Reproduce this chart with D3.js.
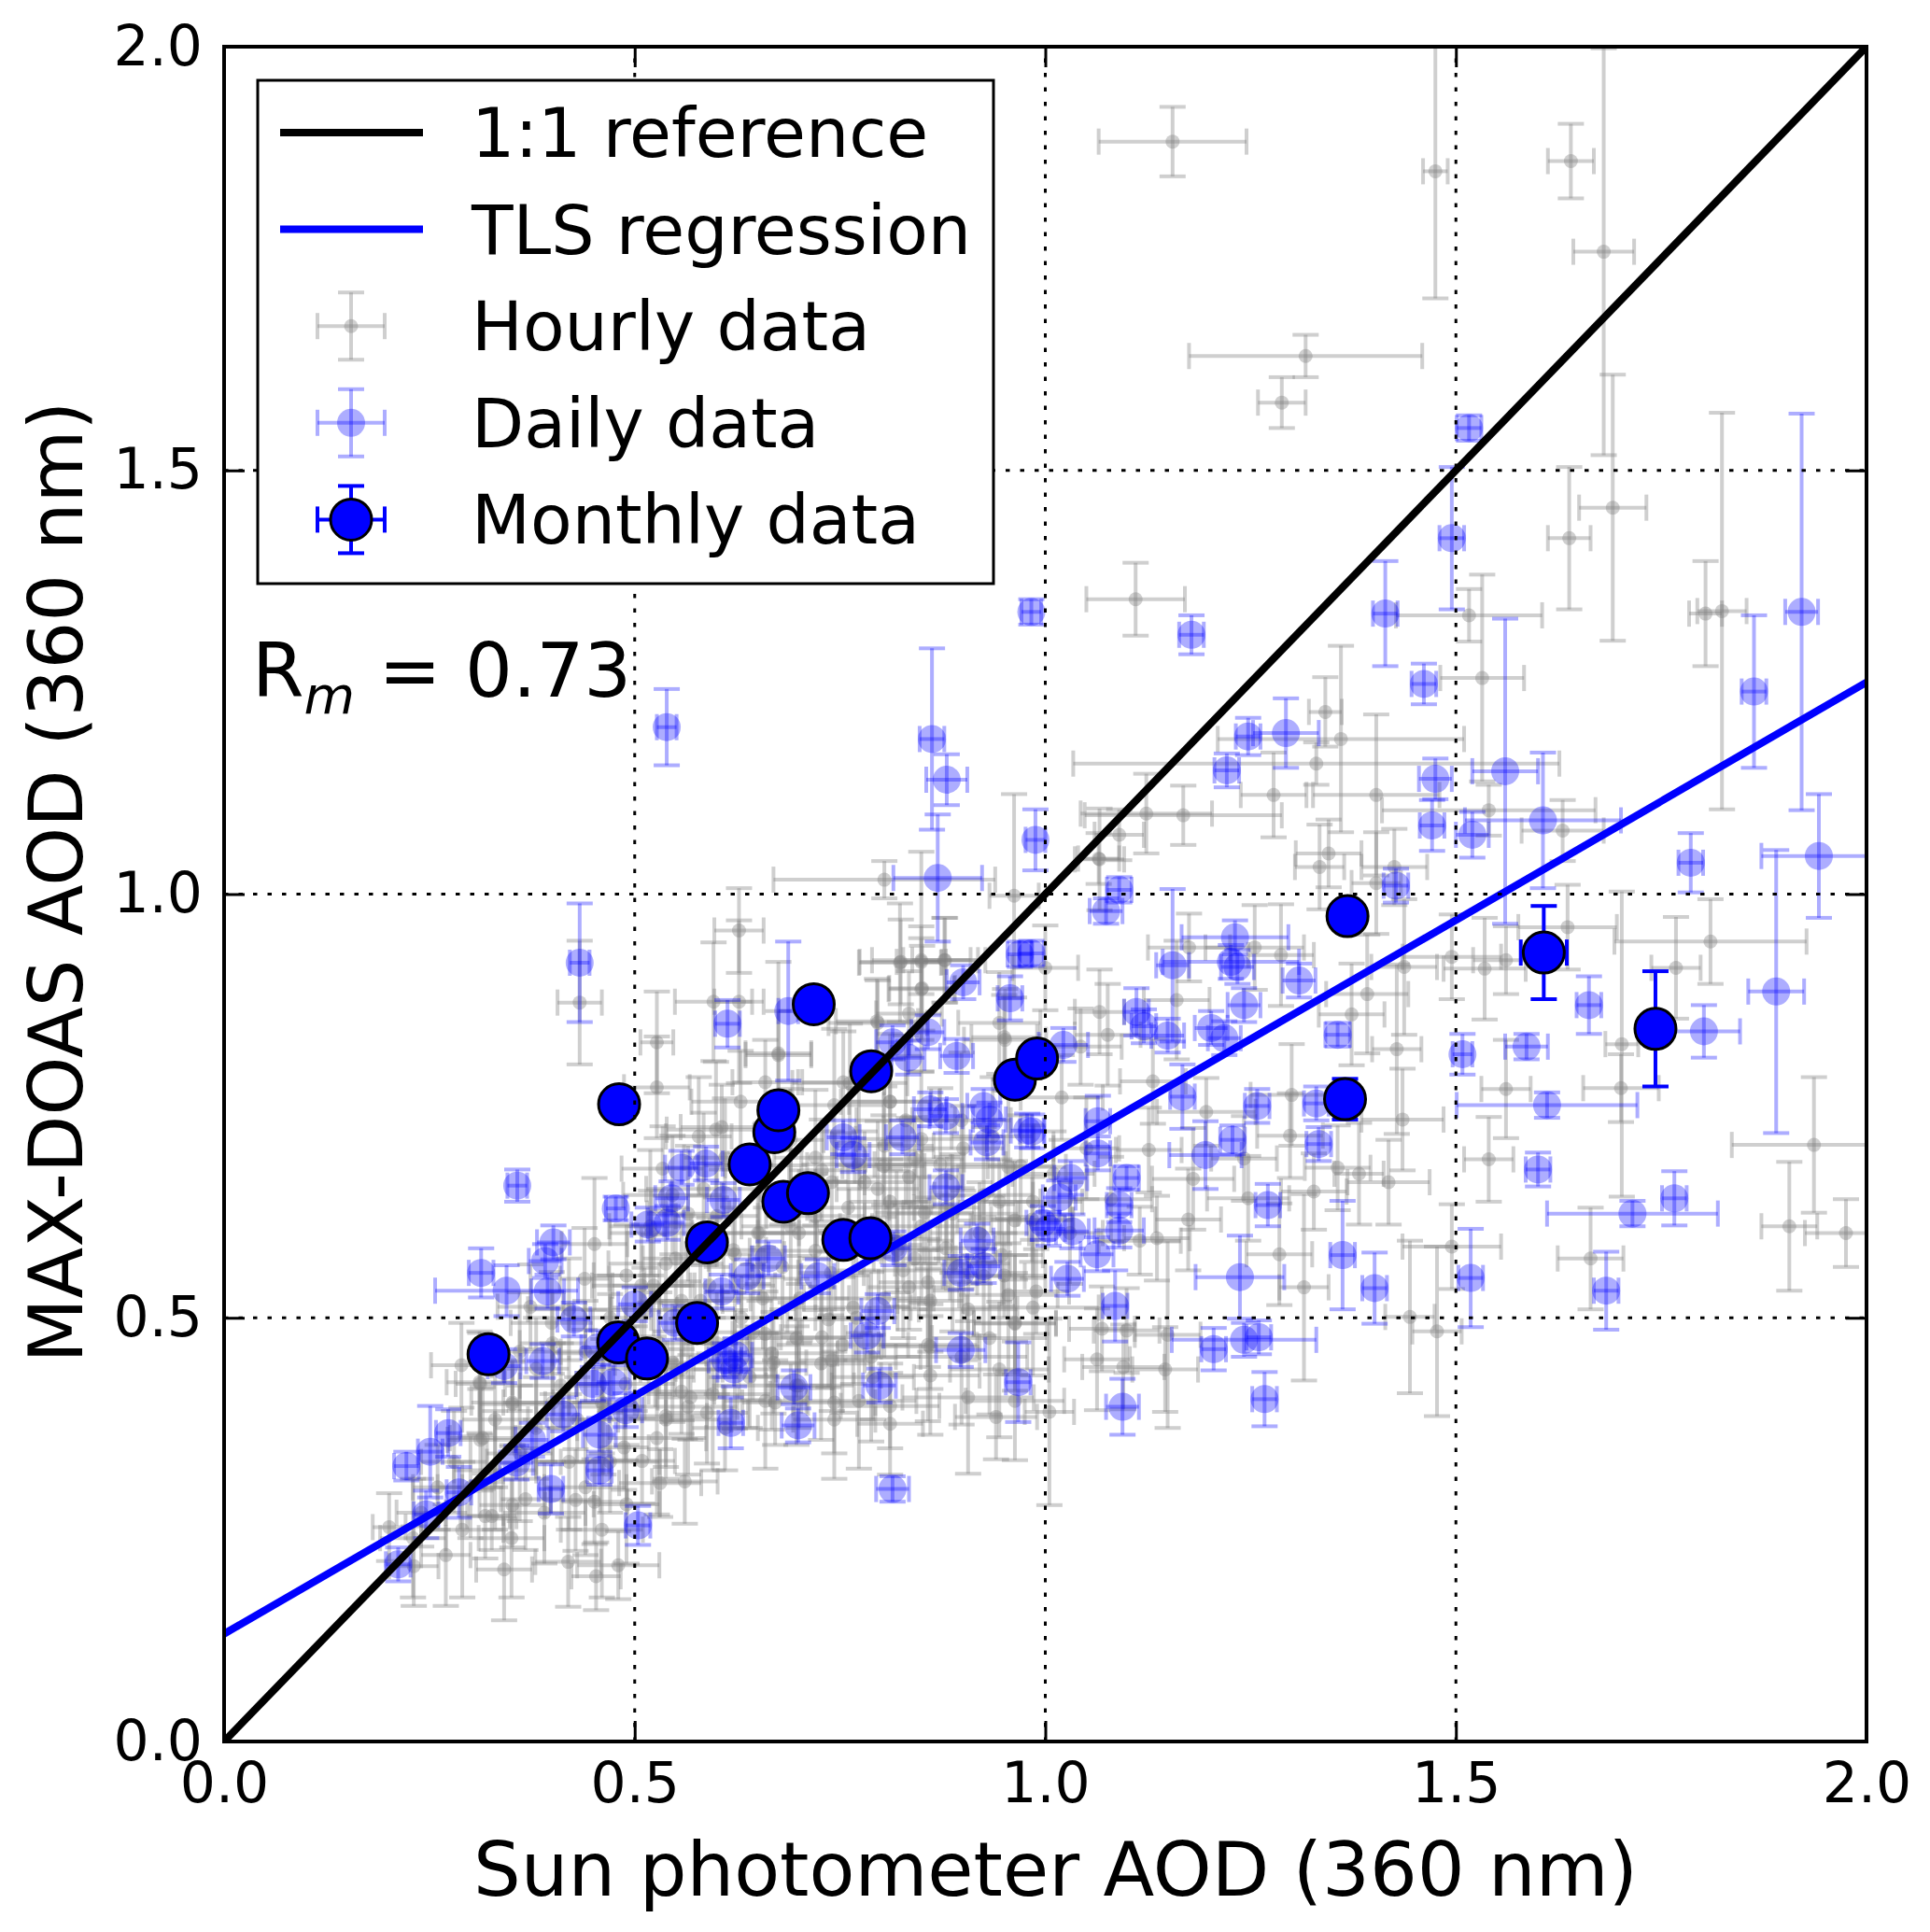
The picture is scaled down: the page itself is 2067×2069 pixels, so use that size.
<!DOCTYPE html>
<html lang="en">
<head>
<meta charset="UTF-8">
<title>MAX-DOAS vs Sun photometer AOD</title>
<script src="https://cdnjs.cloudflare.com/ajax/libs/d3/7.8.5/d3.min.js"></script>
<style>
  body { margin: 0; background: #fff; }
  text { font-family: "DejaVu Sans", sans-serif; fill: #000; }
</style>
</head>
<body>
<div id="chart"></div>
<script>
// every point is [x, y, xerr, yerr]
const hourly = [
  [1.155,1.888,0.090,0.041],[1.475,1.853,0.015,0.150],[1.640,1.865,0.028,0.044],[1.680,1.758,0.037,0.240],
  [1.317,1.635,0.142,0.025],[1.288,1.580,0.029,0.030],[1.691,1.456,0.041,0.157],[1.638,1.420,0.026,0.084],
  [1.110,1.348,0.060,0.043],[1.516,1.329,0.089,0.031],[1.532,1.255,0.051,0.122],[1.804,1.331,0.020,0.062],
  [1.824,1.334,0.030,0.234],[1.341,1.215,0.020,0.041],[1.360,1.183,0.150,0.110],[1.330,1.154,0.296,0.025],
  [1.278,1.117,0.040,0.050],[1.403,1.117,0.077,0.095],[1.123,1.095,0.080,0.047],[1.168,1.093,0.120,0.035],
  [1.090,1.070,0.030,0.030],[1.065,1.042,0.025,0.030],[1.540,1.099,0.130,0.030],[1.630,1.075,0.050,0.036],
  [1.345,1.048,0.040,0.040],[1.334,1.032,0.030,0.050],[1.425,1.032,0.040,0.045],[1.403,1.013,0.030,0.060],
  [1.000,0.913,0.040,0.050],[1.066,1.041,0.030,0.060],[1.175,0.937,0.050,0.040],[1.255,0.937,0.060,0.050],
  [1.287,0.928,0.040,0.060],[1.160,0.875,0.040,0.070],[1.066,0.861,0.030,0.050],[1.076,0.834,0.040,0.060],
  [1.043,0.820,0.050,0.045],[1.428,0.817,0.030,0.100],[1.392,0.882,0.050,0.070],[1.373,0.858,0.040,0.060],
  [1.437,0.914,0.040,0.080],[1.495,0.926,0.060,0.050],[1.535,0.912,0.050,0.060],[1.561,0.922,0.040,0.040],
  [1.636,0.961,0.060,0.050],[1.810,0.944,0.117,0.050],[1.768,0.913,0.030,0.060],[1.561,0.770,0.030,0.058],
  [1.702,0.823,0.020,0.180],[1.701,0.771,0.046,0.040],[1.131,0.779,0.040,0.050],[1.300,0.763,0.050,0.060],
  [1.298,0.715,0.040,0.050],[1.196,0.743,0.060,0.040],[1.435,0.734,0.050,0.060],[1.936,0.704,0.100,0.080],
  [1.540,0.687,0.030,0.050],[1.126,0.698,0.040,0.050],[1.180,0.664,0.050,0.060],[1.242,0.688,0.040,0.050],
  [1.356,0.677,0.040,0.050],[1.382,0.670,0.030,0.060],[1.418,0.660,0.050,0.050],[1.327,0.649,0.040,0.045],
  [1.247,0.641,0.050,0.050],[1.174,0.616,0.040,0.060],[0.984,0.616,0.050,0.050],[1.136,0.594,0.040,0.050],
  [1.115,0.591,0.050,0.040],[1.906,0.608,0.034,0.076],[1.285,0.575,0.040,0.060],[1.495,0.584,0.060,0.050],
  [1.664,0.570,0.040,0.060],[1.315,0.536,0.030,0.110],[1.444,0.501,0.030,0.090],[1.477,0.484,0.030,0.100],
  [1.149,0.480,0.040,0.110],[1.063,0.451,0.040,0.060],[1.095,0.442,0.050,0.050],[1.146,0.439,0.040,0.050],
  [1.005,0.389,0.030,0.110],[1.069,0.487,0.040,0.050],[1.099,0.485,0.040,0.050],[1.975,0.600,0.050,0.040],
  [0.433,0.872,0.027,0.073],[0.804,1.017,0.135,0.022],[0.962,0.998,0.030,0.120],[0.596,0.873,0.047,0.070],
  [0.627,0.873,0.030,0.096],[0.527,0.825,0.020,0.060],[0.823,0.919,0.050,0.070],[0.849,0.920,0.030,0.130],
  [0.878,0.922,0.040,0.050],[0.850,0.889,0.040,0.050],[0.795,0.850,0.050,0.050],[0.951,0.828,0.050,0.060],
  [0.675,0.810,0.040,0.110],[0.527,0.772,0.040,0.060],[0.534,0.676,0.050,0.050],[0.578,0.714,0.040,0.070],
  [0.451,0.587,0.040,0.078],[0.439,0.546,0.030,0.060],[0.373,0.513,0.040,0.050],[0.399,0.494,0.050,0.060],
  [0.289,0.444,0.037,0.050],[0.311,0.424,0.040,0.060],[0.351,0.400,0.050,0.050],[0.315,0.358,0.040,0.060],
  [0.523,0.538,0.050,0.060],[0.512,0.509,0.040,0.050],[0.557,0.439,0.050,0.060],[0.568,0.406,0.040,0.050],
  [0.538,0.384,0.050,0.060],[0.606,0.725,0.050,0.050],[0.627,0.957,0.030,0.050],[0.824,0.920,0.050,0.050],
  [0.849,0.922,0.060,0.040],[0.877,0.922,0.050,0.050],[0.849,0.888,0.040,0.060],[0.675,0.812,0.040,0.050],
  [0.796,0.848,0.060,0.050],[0.944,0.848,0.050,0.060],[0.834,0.859,0.040,0.050],[0.950,0.831,0.040,0.050],
  [0.629,0.755,0.060,0.060],[0.659,0.778,0.040,0.050],[0.754,0.778,0.050,0.060],[0.811,0.755,0.060,0.050],
  [0.803,0.679,0.050,0.060],[0.841,0.687,0.060,0.050],[0.728,0.674,0.040,0.060],[0.811,0.637,0.050,0.050],
  [0.853,0.624,0.060,0.060],[0.944,0.637,0.050,0.050],[0.970,0.679,0.040,0.060],[0.841,0.570,0.050,0.060],
  [0.879,0.582,0.060,0.050],[0.947,0.574,0.050,0.060],[0.739,0.553,0.040,0.050],[0.656,0.523,0.050,0.060],
  [0.701,0.523,0.060,0.050],[0.834,0.536,0.050,0.050],[0.906,0.510,0.060,0.060],[0.989,0.531,0.040,0.050],
  [0.963,0.493,0.050,0.060],[0.659,0.481,0.040,0.050],[0.728,0.477,0.050,0.060],[0.860,0.466,0.060,0.050],
  [0.669,0.447,0.040,0.060],[0.743,0.400,0.050,0.060],[0.811,0.396,0.060,0.050],[0.811,0.375,0.040,0.060],
  [0.940,0.383,0.050,0.050],[0.671,0.400,0.040,0.050],[0.201,0.253,0.020,0.040],[0.231,0.207,0.030,0.047],
  [0.341,0.203,0.034,0.060],[0.419,0.212,0.040,0.053],[0.453,0.195,0.030,0.040],[0.480,0.208,0.050,0.040],
  [0.351,0.279,0.040,0.050],[0.367,0.286,0.030,0.060],[0.451,0.283,0.040,0.050],[0.428,0.285,0.030,0.060],
  [0.509,0.331,0.040,0.050],[0.531,0.305,0.050,0.040],[0.487,0.347,0.030,0.050],[0.312,0.356,0.040,0.060],
  [0.318,0.266,0.030,0.050],[0.326,0.266,0.030,0.040],[0.351,0.398,0.040,0.050],[0.312,0.422,0.030,0.060],
  [0.561,0.307,0.040,0.050],[0.588,0.388,0.050,0.060],[0.557,0.413,0.040,0.050],
  [0.600,0.620,0.050,0.060],[0.620,0.580,0.040,0.050],[0.650,0.600,0.050,0.060],[0.680,0.560,0.040,0.050],
  [0.700,0.600,0.050,0.060],[0.720,0.620,0.060,0.050],[0.740,0.660,0.040,0.060],[0.760,0.630,0.050,0.050],
  [0.780,0.660,0.060,0.060],[0.630,0.500,0.050,0.050],[0.600,0.470,0.040,0.060],[0.580,0.520,0.050,0.050],
  [0.550,0.570,0.040,0.060],[0.520,0.600,0.050,0.050],[0.490,0.550,0.040,0.060],[0.470,0.500,0.050,0.050],
  [0.440,0.460,0.040,0.060],[0.410,0.420,0.050,0.050],[0.380,0.440,0.040,0.060],[0.430,0.380,0.050,0.050],
  [0.460,0.400,0.040,0.060],[0.500,0.440,0.050,0.050],[0.530,0.470,0.040,0.060],[0.660,0.680,0.050,0.050],
  [0.690,0.710,0.040,0.060],[0.820,0.580,0.050,0.050],[0.880,0.630,0.040,0.060],[0.900,0.700,0.050,0.050],
  [0.920,0.600,0.060,0.060],[0.950,0.550,0.050,0.050],[0.860,0.520,0.040,0.060],[0.770,0.500,0.050,0.050],
  [0.740,0.450,0.040,0.060],[0.790,0.430,0.050,0.050],[0.700,0.420,0.040,0.050],[0.640,0.430,0.050,0.060],
  [0.610,0.370,0.040,0.050],[0.260,0.300,0.030,0.050],[0.280,0.330,0.040,0.060],[0.240,0.270,0.030,0.040],
  [1.020,0.760,0.050,0.050],[1.050,0.700,0.040,0.060],[1.080,0.640,0.050,0.050],[1.030,0.600,0.040,0.060],
  [1.010,0.670,0.050,0.050],
  [0.599,0.722,0.060,0.080],[0.610,0.689,0.050,0.070],[0.584,0.652,0.070,0.090],[0.565,0.623,0.050,0.080],
  [0.546,0.645,0.060,0.070],[0.519,0.608,0.050,0.090],[0.538,0.564,0.070,0.080],[0.508,0.538,0.060,0.070],
  [0.557,0.520,0.050,0.090],[0.591,0.538,0.080,0.080],[0.622,0.575,0.060,0.100],[0.652,0.600,0.070,0.080],
  [0.690,0.608,0.060,0.090],[0.720,0.579,0.080,0.070],[0.720,0.689,0.050,0.080],[0.743,0.751,0.060,0.090],
  [0.762,0.777,0.070,0.070],[0.811,0.755,0.050,0.080],[0.830,0.733,0.060,0.100],[0.849,0.711,0.080,0.080],
  [0.804,0.703,0.060,0.070],[0.773,0.681,0.070,0.090],[0.796,0.652,0.050,0.080],[0.834,0.666,0.060,0.070],
  [0.872,0.681,0.080,0.090],[0.898,0.733,0.060,0.080],[0.936,0.714,0.050,0.070],[0.955,0.678,0.070,0.090],
  [0.925,0.645,0.060,0.080],[0.887,0.623,0.080,0.070],[0.849,0.608,0.060,0.090],[0.819,0.593,0.050,0.080],
  [0.963,0.615,0.070,0.070],[0.985,0.637,0.060,0.090],[0.827,0.556,0.080,0.080],[0.857,0.542,0.060,0.100],
  [0.887,0.564,0.070,0.080],[0.925,0.549,0.050,0.070],[0.955,0.527,0.060,0.090],[0.985,0.512,0.080,0.080],
  [0.804,0.523,0.060,0.070],[0.766,0.512,0.070,0.090],[0.736,0.498,0.050,0.080],[0.697,0.476,0.060,0.070],
  [0.667,0.458,0.080,0.090],[0.644,0.483,0.060,0.080],[0.622,0.439,0.050,0.070],[0.595,0.410,0.070,0.090],
  [0.565,0.395,0.060,0.080],[0.538,0.380,0.080,0.070],[0.527,0.358,0.060,0.090],[0.659,0.402,0.050,0.080],
  [0.697,0.420,0.070,0.070],[0.727,0.446,0.060,0.090],[0.753,0.468,0.080,0.080],[0.788,0.454,0.060,0.100],
  [0.773,0.402,0.070,0.080],[0.743,0.380,0.050,0.070],[0.857,0.468,0.060,0.090],[0.898,0.454,0.080,0.080],
  [0.860,0.432,0.060,0.070],[0.932,0.476,0.070,0.090],[0.963,0.494,0.050,0.080],[0.963,0.402,0.060,0.070],
  [0.906,0.406,0.080,0.090],[0.944,0.439,0.060,0.080],[0.470,0.458,0.070,0.070],[0.489,0.422,0.060,0.090],
  [0.462,0.395,0.050,0.080],[0.546,0.447,0.070,0.070],
  [0.300,0.300,0.040,0.060],[0.330,0.320,0.050,0.070],[0.360,0.340,0.040,0.080],[0.380,0.370,0.050,0.060],
  [0.400,0.400,0.060,0.070],[0.420,0.330,0.040,0.080],[0.390,0.270,0.050,0.060],[0.350,0.240,0.040,0.070],
  [0.290,0.250,0.050,0.080],[0.270,0.220,0.030,0.060],[0.230,0.240,0.040,0.070],[0.440,0.300,0.050,0.080],
  [0.470,0.330,0.060,0.060],[0.490,0.280,0.040,0.070],[0.460,0.250,0.050,0.080],[0.400,0.470,0.040,0.060],
  [0.360,0.460,0.050,0.070],[0.330,0.380,0.040,0.080],[0.420,0.510,0.050,0.060]
];

const daily = [
  [1.516,1.550,0.015,0.015],[1.495,1.420,0.015,0.084],[0.983,1.333,0.012,0.015],[1.178,1.306,0.015,0.023],
  [1.414,1.331,0.015,0.062],[1.461,1.248,0.015,0.024],[1.921,1.333,0.020,0.234],[1.863,1.239,0.015,0.090],
  [1.247,1.186,0.015,0.022],[1.293,1.190,0.040,0.041],[1.221,1.146,0.015,0.020],[1.475,1.136,0.020,0.024],
  [1.560,1.145,0.040,0.180],[1.471,1.081,0.015,0.030],[1.520,1.070,0.020,0.027],[1.606,1.087,0.095,0.080],
  [0.988,1.064,0.012,0.036],[1.786,1.037,0.015,0.035],[1.942,1.045,0.070,0.073],[1.090,1.005,0.015,0.015],
  [1.427,1.010,0.015,0.020],[1.074,0.980,0.020,0.015],[0.983,0.930,0.015,0.015],[1.155,0.916,0.020,0.090],
  [1.231,0.949,0.065,0.020],[1.226,0.920,0.083,0.020],[1.234,0.914,0.020,0.020],[1.309,0.898,0.020,0.020],
  [1.242,0.869,0.020,0.020],[1.111,0.861,0.015,0.028],[1.120,0.844,0.015,0.020],[1.149,0.833,0.020,0.020],
  [1.202,0.842,0.020,0.020],[1.218,0.830,0.020,0.020],[1.356,0.834,0.015,0.014],[1.022,0.822,0.030,0.020],
  [1.508,0.811,0.012,0.024],[1.586,0.820,0.026,0.015],[1.662,0.869,0.015,0.034],[1.802,0.838,0.044,0.031],
  [1.890,0.885,0.034,0.167],[1.167,0.761,0.015,0.038],[1.258,0.750,0.015,0.020],[1.330,0.753,0.015,0.020],
  [1.611,0.751,0.110,0.015],[0.984,0.720,0.015,0.020],[1.064,0.732,0.015,0.030],[1.064,0.694,0.015,0.020],
  [1.228,0.710,0.015,0.017],[1.195,0.692,0.044,0.040],[1.333,0.705,0.015,0.020],[1.031,0.665,0.020,0.020],
  [1.099,0.665,0.015,0.014],[1.017,0.642,0.020,0.020],[1.090,0.633,0.015,0.020],[1.271,0.633,0.015,0.025],
  [1.600,0.675,0.015,0.020],[1.766,0.641,0.015,0.032],[1.715,0.623,0.104,0.015],[1.090,0.603,0.030,0.020],
  [1.004,0.605,0.020,0.020],[1.033,0.602,0.020,0.020],[1.063,0.575,0.020,0.020],[1.362,0.574,0.015,0.064],
  [1.401,0.535,0.015,0.042],[1.237,0.548,0.054,0.049],[1.027,0.546,0.020,0.020],[1.518,0.547,0.015,0.058],
  [1.683,0.532,0.015,0.046],[1.085,0.514,0.015,0.042],[1.205,0.463,0.015,0.025],[1.242,0.474,0.088,0.020],
  [1.260,0.477,0.015,0.020],[1.267,0.404,0.015,0.032],[1.094,0.395,0.020,0.033],
  [0.433,0.919,0.012,0.070],[0.539,1.197,0.012,0.045],[0.862,1.183,0.015,0.107],[0.880,1.135,0.025,0.030],
  [0.869,1.019,0.054,0.075],[0.969,0.929,0.015,0.015],[0.957,0.877,0.015,0.026],[0.613,0.847,0.015,0.028],
  [0.687,0.862,0.012,0.082],[0.900,0.896,0.020,0.020],[0.857,0.837,0.020,0.020],[0.814,0.825,0.020,0.020],
  [0.833,0.807,0.020,0.020],[0.892,0.809,0.020,0.020],
  [0.357,0.656,0.012,0.019],[0.477,0.629,0.012,0.014],[0.313,0.553,0.015,0.029],[0.344,0.532,0.087,0.030],
  [0.394,0.531,0.020,0.020],[0.391,0.567,0.020,0.020],[0.401,0.589,0.020,0.020],[0.426,0.498,0.020,0.020],
  [0.388,0.449,0.020,0.020],[0.341,0.443,0.020,0.020],[0.273,0.364,0.015,0.028],[0.251,0.342,0.015,0.054],
  [0.222,0.325,0.015,0.017],[0.557,0.677,0.020,0.020],[0.587,0.682,0.020,0.020],[0.545,0.641,0.020,0.020],
  [0.516,0.610,0.020,0.020],[0.540,0.612,0.020,0.020],[0.608,0.639,0.020,0.020],[0.500,0.516,0.020,0.020],
  [0.455,0.465,0.020,0.020],[0.449,0.422,0.020,0.020],[0.474,0.424,0.020,0.020],[0.489,0.391,0.020,0.020],
  [0.413,0.386,0.020,0.020],[0.457,0.362,0.020,0.020],[0.617,0.376,0.015,0.030],[0.606,0.531,0.020,0.020],
  [0.610,0.450,0.020,0.020],[0.621,0.439,0.020,0.020],[0.549,0.494,0.020,0.020],
  [0.860,0.746,0.020,0.020],[0.879,0.738,0.020,0.020],[0.925,0.750,0.020,0.020],[0.932,0.734,0.020,0.020],
  [0.978,0.721,0.020,0.020],[0.929,0.707,0.020,0.020],[0.826,0.713,0.020,0.020],[0.754,0.713,0.020,0.020],
  [0.766,0.692,0.020,0.020],[0.879,0.654,0.020,0.020],[0.917,0.591,0.020,0.020],[0.925,0.561,0.020,0.020],
  [0.897,0.553,0.020,0.020],[0.997,0.612,0.020,0.020],[0.796,0.508,0.020,0.020],[0.783,0.479,0.020,0.020],
  [0.897,0.462,0.030,0.020],[0.967,0.424,0.015,0.047],[0.798,0.420,0.020,0.020],[0.694,0.418,0.020,0.020],
  [0.699,0.373,0.020,0.020],[0.623,0.456,0.020,0.020],[0.663,0.570,0.020,0.020],[0.637,0.549,0.020,0.020],
  [0.723,0.549,0.020,0.020],[0.815,0.582,0.020,0.020],
  [0.286,0.294,0.015,0.030],[0.246,0.268,0.015,0.028],[0.212,0.209,0.015,0.020],[0.356,0.329,0.020,0.020],
  [0.375,0.356,0.020,0.020],[0.398,0.298,0.015,0.029],[0.457,0.320,0.015,0.017],[0.504,0.255,0.015,0.023],
  [0.814,0.298,0.020,0.015]
];

const monthly = [
  [0.322,0.457,0.010,0.015],[0.481,0.752,0.010,0.015],[0.480,0.471,0.010,0.015],[0.515,0.452,0.010,0.015],
  [0.576,0.494,0.010,0.015],[0.588,0.589,0.010,0.015],[0.640,0.681,0.010,0.015],[0.670,0.719,0.010,0.015],
  [0.675,0.745,0.010,0.015],[0.681,0.637,0.010,0.015],[0.711,0.647,0.010,0.015],[0.718,0.870,0.010,0.015],
  [0.754,0.592,0.010,0.015],[0.787,0.594,0.010,0.015],[0.788,0.791,0.010,0.015],[0.963,0.781,0.010,0.015],
  [0.990,0.806,0.010,0.015],[1.368,0.974,0.010,0.015],[1.365,0.758,0.010,0.024],[1.607,0.931,0.028,0.055],
  [1.743,0.841,0.010,0.068]
];

const tickValues = [0, 0.5, 1.0, 1.5, 2.0];
const gridValues = [0.5, 1.0, 1.5];
const tlsIntercept = 0.127;
const tlsSlope = 0.5615;
const correlation = "0.73";
const legendLabels = ["1:1 reference", "TLS regression", "Hourly data", "Daily data", "Monthly data"];

const W = 2067, H = 2069;
const margin = {top: 50, right: 68, bottom: 204, left: 240};
const innerW = W - margin.left - margin.right;
const innerH = H - margin.top - margin.bottom;

const svg = d3.select("#chart").append("svg")
    .attr("width", W)
    .attr("height", H);

const x = d3.scaleLinear().domain([0, 2]).range([margin.left, margin.left + innerW]);
const y = d3.scaleLinear().domain([0, 2]).range([margin.top + innerH, margin.top]);

svg.append("clipPath").attr("id", "plot-clip")
  .append("rect")
    .attr("x", margin.left).attr("y", margin.top)
    .attr("width", innerW).attr("height", innerH);

const plot = svg.append("g").attr("clip-path", "url(#plot-clip)");

const styles = {
  hourly: {color: "gray", alpha: 0.38, width: 4, cap: 14, r: 7.5, edge: null},
  daily: {color: "blue", alpha: 0.32, width: 4, cap: 14, r: 15, edge: null},
  monthly: {color: "blue", alpha: 1, width: 4, cap: 14, r: 22, edge: "#000"}
};

// bars (with caps) for one series, then its markers on top
function errorbars(g, data, s) {
  const bars = g.append("g")
      .attr("stroke", s.color)
      .attr("stroke-opacity", s.alpha)
      .attr("stroke-width", s.width);
  data.forEach(d => {
    const cx = x(d[0]), cy = y(d[1]);
    const xl = x(d[0] - d[2]), xr = x(d[0] + d[2]);
    const yb = y(d[1] - d[3]), yt = y(d[1] + d[3]);
    bars.append("line").attr("x1", xl).attr("x2", xr).attr("y1", cy).attr("y2", cy);
    bars.append("line").attr("x1", cx).attr("x2", cx).attr("y1", yb).attr("y2", yt);
    bars.append("line").attr("x1", xl).attr("x2", xl).attr("y1", cy - s.cap).attr("y2", cy + s.cap);
    bars.append("line").attr("x1", xr).attr("x2", xr).attr("y1", cy - s.cap).attr("y2", cy + s.cap);
    bars.append("line").attr("x1", cx - s.cap).attr("x2", cx + s.cap).attr("y1", yb).attr("y2", yb);
    bars.append("line").attr("x1", cx - s.cap).attr("x2", cx + s.cap).attr("y1", yt).attr("y2", yt);
  });
  g.append("g").selectAll("circle")
    .data(data)
    .join("circle")
      .attr("cx", d => x(d[0]))
      .attr("cy", d => y(d[1]))
      .attr("r", s.r)
      .attr("fill", s.color)
      .attr("fill-opacity", s.alpha)
      .attr("stroke", s.edge || "none")
      .attr("stroke-width", s.edge ? 3 : 0);
}

errorbars(plot, hourly, styles.hourly);
errorbars(plot, daily, styles.daily);

// TLS line sits under the monthly markers, the 1:1 line above them
plot.append("line")
    .attr("x1", x(0)).attr("y1", y(tlsIntercept))
    .attr("x2", x(2)).attr("y2", y(tlsIntercept + 2 * tlsSlope))
    .attr("stroke", "blue").attr("stroke-width", 8);

errorbars(plot, monthly, styles.monthly);

plot.append("line")
    .attr("x1", x(0)).attr("y1", y(0))
    .attr("x2", x(2)).attr("y2", y(2))
    .attr("stroke", "#000").attr("stroke-width", 8);

// dotted grid
const grid = svg.append("g")
    .attr("stroke", "#000")
    .attr("stroke-width", 3)
    .attr("stroke-dasharray", "4.5 11");
grid.selectAll(".gx").data(gridValues).join("line")
    .attr("x1", d => x(d)).attr("x2", d => x(d))
    .attr("y1", y(0)).attr("y2", y(2));
grid.selectAll(".gy").data(gridValues).join("line")
    .attr("y1", d => y(d)).attr("y2", d => y(d))
    .attr("x1", x(0)).attr("x2", x(2));

// axes with inward ticks on all four sides
const fmt = d3.format(".1f");
const tickLen = 22;
function styleAxis(g) {
  g.select(".domain").remove();
  g.selectAll(".tick line").attr("stroke", "#000").attr("stroke-width", 3);
  g.selectAll(".tick text").attr("font-size", 60).attr("font-family", "DejaVu Sans").attr("fill", "#000");
}
svg.append("g")
    .attr("transform", `translate(0,${y(0)})`)
    .call(d3.axisBottom(x).tickValues(tickValues).tickFormat(fmt).tickSize(-tickLen).tickPadding(22))
    .call(styleAxis);
svg.append("g")
    .attr("transform", `translate(${x(0)},0)`)
    .call(d3.axisLeft(y).tickValues(tickValues).tickFormat(fmt).tickSize(-tickLen).tickPadding(23))
    .call(styleAxis);
svg.append("g")
    .attr("transform", `translate(0,${y(2)})`)
    .call(d3.axisTop(x).tickValues(tickValues).tickFormat("").tickSize(-tickLen))
    .call(styleAxis);
svg.append("g")
    .attr("transform", `translate(${x(2)},0)`)
    .call(d3.axisRight(y).tickValues(tickValues).tickFormat("").tickSize(-tickLen))
    .call(styleAxis);

svg.append("rect")
    .attr("x", x(0)).attr("y", y(2))
    .attr("width", innerW).attr("height", innerH)
    .attr("fill", "none").attr("stroke", "#000").attr("stroke-width", 4);

// axis titles
svg.append("text")
    .attr("x", margin.left + innerW / 2 + 11)
    .attr("y", 2030)
    .attr("text-anchor", "middle")
    .attr("font-size", 80)
    .text("Sun photometer AOD (360 nm)");
svg.append("text")
    .attr("transform", `translate(88,${margin.top + innerH / 2 - 13}) rotate(-90)`)
    .attr("text-anchor", "middle")
    .attr("font-size", 80)
    .text("MAX-DOAS AOD (360 nm)");

// correlation label
const rText = svg.append("text")
    .attr("x", 270).attr("y", 746)
    .attr("font-size", 80);
rText.append("tspan").text("R");
rText.append("tspan").attr("dy", 18).attr("font-size", 56).attr("font-style", "italic").text("m");
rText.append("tspan").attr("dy", -18).text(` = ${correlation}`);

// legend
const legend = svg.append("g");
legend.append("rect")
    .attr("x", 276).attr("y", 86)
    .attr("width", 788).attr("height", 539)
    .attr("fill", "#fff").attr("stroke", "#000").attr("stroke-width", 3);

const rowY = i => 142 + i * 103.6;
legend.append("line").attr("x1", 300).attr("x2", 453).attr("y1", rowY(0)).attr("y2", rowY(0))
    .attr("stroke", "#000").attr("stroke-width", 8);
legend.append("line").attr("x1", 300).attr("x2", 453).attr("y1", rowY(1)).attr("y2", rowY(1))
    .attr("stroke", "blue").attr("stroke-width", 8);

[styles.hourly, styles.daily, styles.monthly].forEach((s, k) => {
  const cx = 376, cy = rowY(k + 2), hx = 36, hy = 36;
  const g = legend.append("g")
      .attr("stroke", s.color).attr("stroke-opacity", s.alpha).attr("stroke-width", s.width);
  g.append("line").attr("x1", cx - hx).attr("x2", cx + hx).attr("y1", cy).attr("y2", cy);
  g.append("line").attr("x1", cx).attr("x2", cx).attr("y1", cy - hy).attr("y2", cy + hy);
  g.append("line").attr("x1", cx - hx).attr("x2", cx - hx).attr("y1", cy - s.cap).attr("y2", cy + s.cap);
  g.append("line").attr("x1", cx + hx).attr("x2", cx + hx).attr("y1", cy - s.cap).attr("y2", cy + s.cap);
  g.append("line").attr("x1", cx - s.cap).attr("x2", cx + s.cap).attr("y1", cy - hy).attr("y2", cy - hy);
  g.append("line").attr("x1", cx - s.cap).attr("x2", cx + s.cap).attr("y1", cy + hy).attr("y2", cy + hy);
  legend.append("circle")
      .attr("cx", cx).attr("cy", cy).attr("r", s.r)
      .attr("fill", s.color).attr("fill-opacity", s.alpha)
      .attr("stroke", s.edge || "none").attr("stroke-width", s.edge ? 3 : 0);
});

legend.selectAll(".label")
  .data(legendLabels)
  .join("text")
    .attr("x", 505)
    .attr("y", (d, i) => rowY(i) + 26)
    .attr("font-size", 73)
    .text(d => d);
</script>
</body>
</html>
